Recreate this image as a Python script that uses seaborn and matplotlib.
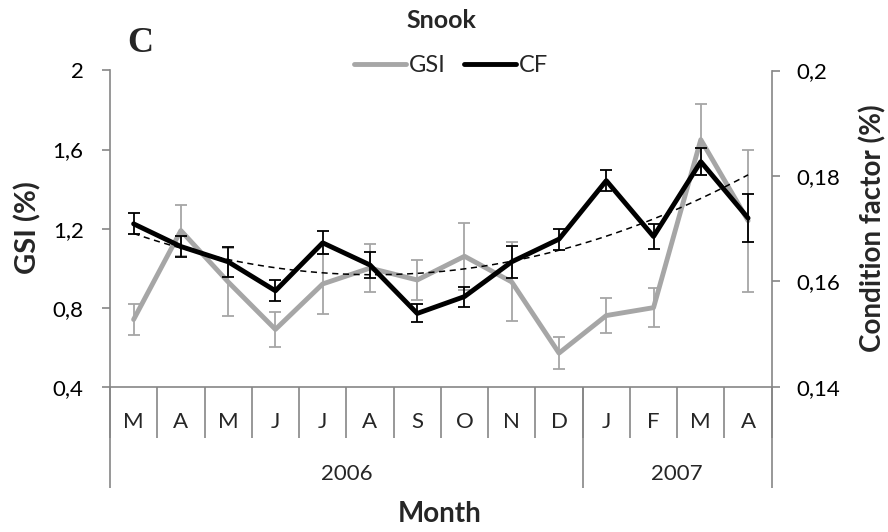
import numpy as np
import pandas as pd
import matplotlib
matplotlib.use("Agg")
import matplotlib.pyplot as plt
import seaborn as sns
from matplotlib.lines import Line2D

# ---- data ----
months = ["M", "A", "M", "J", "J", "A", "S", "O", "N", "D", "J", "F", "M", "A"]
years = ["2006"] * 10 + ["2007"] * 4
gsi = [0.74, 1.19, 0.93, 0.69, 0.92, 1.00, 0.94, 1.06, 0.93, 0.57, 0.76, 0.80, 1.65, 1.24]
gsi_err = [0.08, 0.13, 0.17, 0.09, 0.15, 0.12, 0.10, 0.17, 0.20, 0.08, 0.09, 0.10, 0.18, 0.36]
cf = [0.1709, 0.1666, 0.1637, 0.1582, 0.1673, 0.1631, 0.1539, 0.1571, 0.1637, 0.1680,
      0.1791, 0.1685, 0.1827, 0.1720]
cf_err = [0.0020, 0.0020, 0.0028, 0.0020, 0.0022, 0.0025, 0.0017, 0.0019, 0.0030, 0.0020,
          0.0020, 0.0023, 0.0025, 0.0045]
gsi_ticks = [0.4, 0.8, 1.2, 1.6, 2.0]
gsi_ticklabels = ["0,4", "0,8", "1,2", "1,6", "2"]
cf_ticks = [0.14, 0.16, 0.18, 0.20]
cf_ticklabels = ["0,14", "0,16", "0,18", "0,2"]

df = pd.DataFrame({"idx": np.arange(len(months)), "month": months, "year": years,
                   "GSI": gsi, "GSI_err": gsi_err, "CF": cf, "CF_err": cf_err})

# ---- style ----
sns.set_theme(style="white")
FONT = ["Lato", "DejaVu Sans"]
plt.rcParams["font.family"] = FONT
GRAY = "#A6A6A6"
AXC = "#868686"

fig = plt.figure(figsize=(8.88, 5.32), dpi=100)
ax = fig.add_axes([110 / 888, 1 - 386.7 / 532, (771.7 - 110) / 888, (386.7 - 70.5) / 532])
ax2 = ax.twinx()

# GSI
ax.errorbar(df["idx"], df["GSI"], yerr=df["GSI_err"], fmt="none", ecolor=GRAY,
            elinewidth=1.3, capsize=4.5, capthick=1.3, zorder=2)
sns.lineplot(data=df, x="idx", y="GSI", ax=ax, color=GRAY, linewidth=3.5,
             legend=False, zorder=3)

# CF
ax2.errorbar(df["idx"], df["CF"], yerr=df["CF_err"], fmt="none", ecolor="black",
             elinewidth=1.3, capsize=4.5, capthick=1.3, zorder=4)
sns.lineplot(data=df, x="idx", y="CF", ax=ax2, color="black", linewidth=3.5,
             legend=False, zorder=5)
# polynomial trend (order 2) of CF
coef = np.polyfit(df["idx"], df["CF"], 2)
xs = np.linspace(df["idx"].min(), df["idx"].max(), 200)
ax2.plot(xs, np.polyval(coef, xs), color="black", linewidth=1.1, linestyle=(0, (4, 3)), zorder=6)

# axes limits & ticks
ax.set_xlim(-0.5, len(months) - 0.5)
ax.set_ylim(gsi_ticks[0], gsi_ticks[-1])
ax2.set_ylim(cf_ticks[0], cf_ticks[-1])
ax.set_yticks(gsi_ticks)
ax.set_yticklabels(gsi_ticklabels, fontsize=16)
ax2.set_yticks(cf_ticks)
ax2.set_yticklabels(cf_ticklabels, fontsize=16)
ax.set_xticks([])
ax.set_xlabel("")
ax.set_ylabel("")
ax2.set_ylabel("")

for a in (ax, ax2):
    for s in a.spines.values():
        s.set_visible(False)
ax.spines["left"].set_visible(True)
ax.spines["bottom"].set_visible(True)
ax2.spines["right"].set_visible(True)
for s in (ax.spines["left"], ax.spines["bottom"], ax2.spines["right"]):
    s.set_color(AXC)
    s.set_linewidth(1.2)
ax.tick_params(axis="y", left=True, length=6, width=1.2, color=AXC, pad=13, labelcolor="black")
ax2.tick_params(axis="y", right=True, length=6, width=1.2, color=AXC, pad=12, labelcolor="black")

# category axis: month and year separators
tr = ax.get_xaxis_transform()
h_px = 386.7 - 70.5
n = len(months)
ax.vlines(np.arange(n + 1) - 0.5, 0, -51.6 / h_px, transform=tr, colors=AXC,
          linewidth=1.2, clip_on=False)
year_names = list(dict.fromkeys(years))
bounds = [-0.5]
for y in year_names:
    bounds.append(bounds[-1] + years.count(y))
ax.vlines(bounds, 0, -101.6 / h_px, transform=tr, colors=AXC, linewidth=1.2, clip_on=False)
for i, m in enumerate(months):
    ax.text(i, -35.5 / h_px, m, transform=tr, ha="center", va="center", fontsize=16)
for k, y in enumerate(year_names):
    ax.text((bounds[k] + bounds[k + 1]) / 2, -87 / h_px, y, transform=tr,
            ha="center", va="center", fontsize=16)

# labels
fig.text(440 / 888, 1 - 514 / 532, "Month", ha="center", va="center",
         fontsize=20, fontweight="bold")
fig.text(28 / 888, 1 - 228 / 532, "GSI (%)", ha="center", va="center", rotation=90,
         fontsize=21, fontweight="bold")
fig.text(873 / 888, 1 - 228 / 532, "Condition factor (%)", ha="center", va="center",
         rotation=90, fontsize=20, fontweight="bold")
fig.text(441 / 888, 1 - 21 / 532, "Snook", ha="center", va="center",
         fontsize=18, fontweight="bold")
fig.text(140 / 888, 1 - 43 / 532, "C", ha="center", va="center", fontsize=26,
         fontweight="bold", family="Liberation Serif")

handles = [Line2D([], [], color=GRAY, linewidth=3.5, solid_capstyle="round"),
           Line2D([], [], color="black", linewidth=3.5, solid_capstyle="round")]
leg = ax.legend(handles, ["GSI", "CF"], loc="center",
                bbox_to_anchor=(451 / 888, 1 - 66 / 532), bbox_transform=fig.transFigure,
                ncol=2, frameon=False, fontsize=17, handlelength=2.2, handletextpad=0.1,
                columnspacing=0.8, borderaxespad=0, borderpad=0)

fig.savefig("out.png", dpi=100)
